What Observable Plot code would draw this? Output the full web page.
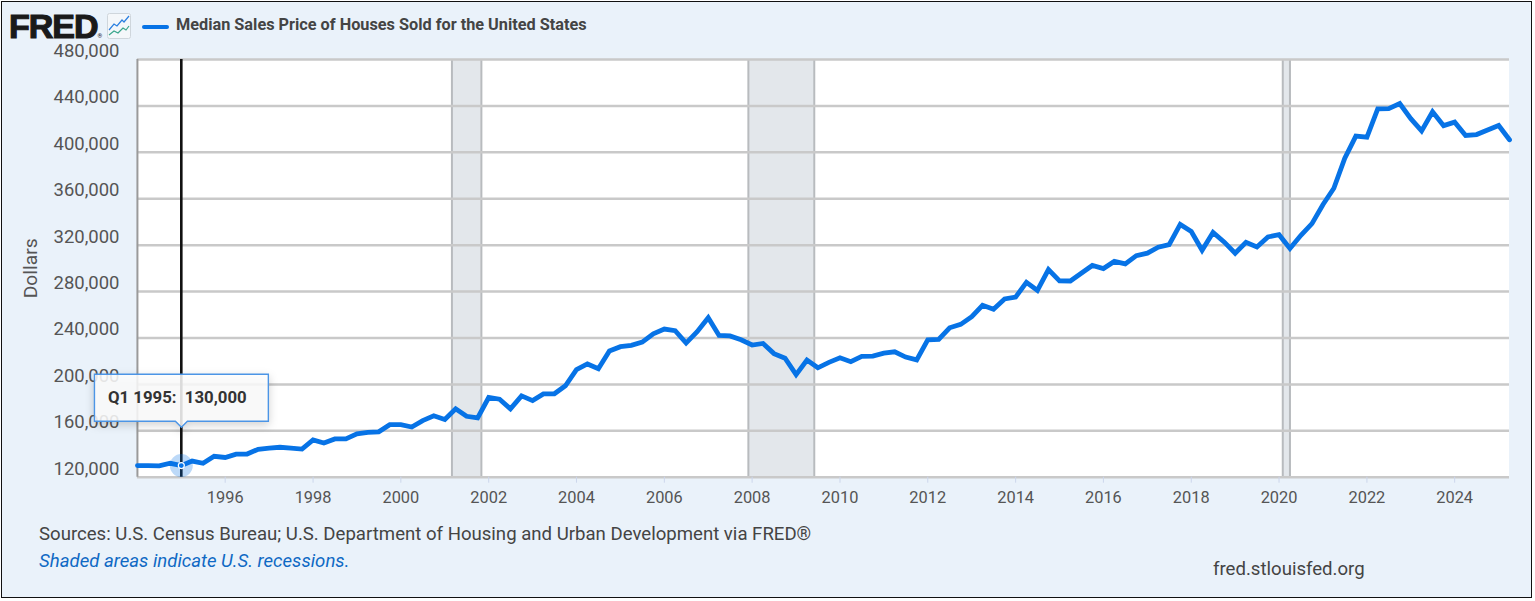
<!DOCTYPE html>
<html><head><meta charset="utf-8">
<script src="https://cdn.jsdelivr.net/npm/d3@7"></script>
<script src="https://cdn.jsdelivr.net/npm/@observablehq/plot@0.6"></script>
<style>
html,body{margin:0;padding:0;background:#fff;overflow:hidden}
#frame{position:absolute;left:1px;top:1px;width:1529px;height:595px;border:1px solid #111;background:#EAF2FA;font-family:Roboto,sans-serif;overflow:hidden}
#chart{position:absolute;left:-1px;top:39px}
#chart svg{overflow:visible;background:transparent}
#chart g[aria-label="tip"]{filter:none!important}
#chart g[aria-label="tip"] text{fill:#333}
.abs{position:absolute;white-space:nowrap}
#logo{left:7px;top:12px;font:900 34px/24px "Liberation Sans",Arial,sans-serif;color:#1a1a1a;letter-spacing:-1px;-webkit-text-stroke:1.2px #1a1a1a}
#logo span{font:400 6px/6px Roboto;letter-spacing:0;-webkit-text-stroke:0}
#icon{left:105px;top:11px}
#swatch{left:140px;top:23px;width:27px;height:4px;background:#0773E6;border-radius:2px}
#title{left:174px;top:13px;font:700 16.27px/19px Roboto,sans-serif;color:#444}
#src{left:37px;top:521px;font:400 18.6px/22px Roboto,sans-serif;color:#444}
#note{left:37px;top:548px;font:italic 400 18.6px/22px Roboto,sans-serif;color:#0F69C4}
#site{left:1211px;top:556px;font:400 18.6px/22px Roboto,sans-serif;color:#444}
</style></head><body>
<div id="frame">
  <div id="chart"></div>
  <div class="abs" id="logo">FRED<span>®</span></div>
  <svg class="abs" id="icon" width="24" height="26" viewBox="0 0 24 26"><rect x=".5" y=".5" width="23" height="25" rx="2" fill="#f4f7fa" stroke="#cfd6dc"/><polyline points="2,17 7,11 10,13 15,7 17,9 22,3" fill="none" stroke="#2a7fe0" stroke-width="1.2"/><polyline points="2,22 7,18 11,20 16,15 19,17 22,13" fill="none" stroke="#3aa68c" stroke-width="1.2"/></svg>
  <div class="abs" id="swatch"></div>
  <div class="abs" id="title">Median Sales Price of Houses Sold for the United States</div>
  <div class="abs" id="src">Sources: U.S. Census Bureau; U.S. Department of Housing and Urban Development via FRED®</div>
  <div class="abs" id="note">Shaded areas indicate U.S. recessions.</div>
  <div class="abs" id="site">fred.stlouisfed.org</div>
</div>
<script>
const firstYear = 1994;
const medianPrice = [
 130000,130000,129700,132000, 130000,133900,132000,138000,
 137000,139900,140000,144100, 145000,145800,145000,144200,
 152200,149500,153000,153000, 157400,158700,159100,165300,
 165300,163200,168800,172900, 169800,179000,172500,171100,
 188700,187200,178900,190100, 186000,191800,191900,198800,
 212700,217600,213500,228800, 232500,233700,236400,243600,
 247700,246300,235600,245400, 257400,242200,241800,238400,
 233900,235300,226500,222500, 208400,220900,214300,219000,
 222900,219500,224100,224300, 226900,228100,223500,221100,
 238400,238700,248800,251700, 258400,268100,264800,273600,
 275200,288000,281000,298900, 289200,289100,295800,302500,
 299800,306000,303800,310900, 313100,318200,320500,337900,
 331800,315600,330900,322800, 313000,322500,318400,327100,
 329000,317100,328500,338500, 355000,369000,395000,414000,
 413000,437500,437700,442000, 429000,418500,435000,423000,
 426000,414500,415300,419300, 423100,410800
];
const recessionStart = ["2001-03-01","2007-12-01","2020-02-01"];
const recessionEnd   = ["2001-11-01","2009-06-01","2020-04-01"];
const yTicks = [120000,160000,200000,240000,280000,320000,360000,400000,440000,480000];
const xTickYears = [1996,1998,2000,2002,2004,2006,2008,2010,2012,2014,2016,2018,2020,2022,2024];
const cursorDate = "1995-01-01";
const cursorValue = 130000;
const tipAnchorValue = 163000;
const tipLabel = "Q1 1995:\u00A0\u00A0130,000\u00A0\u00A0";

const dates = medianPrice.map((_, i) => new Date(Date.UTC(firstYear + Math.floor(i/4), (i%4)*3, 1)));
const series = medianPrice.map((v, i) => ({date: dates[i], value: v}));
const recessions = recessionStart.map((s, i) => ({start: new Date(s), end: new Date(recessionEnd[i])}));
const cursor = [{date: new Date(cursorDate), value: cursorValue}];
const tip = [{date: new Date(cursorDate), value: tipAnchorValue, label: tipLabel}];
const xTicks = xTickYears.map(y => new Date(Date.UTC(y,0,1)));
const fmt = d3.format(",");

const chart = Plot.plot({
  width: 1531, height: 480,
  marginLeft: 136, marginRight: 22, marginTop: 18, marginBottom: 44,
  style: {background: "transparent", fontFamily: "Roboto, sans-serif", overflow: "visible"},
  x: {type: "utc", domain: [dates[0], dates[dates.length-1]], label: null},
  y: {domain: [120000, 480000], label: null},
  marks: [
    Plot.rect([{}], {x1: dates[0], x2: dates[dates.length-1], y1: 120000, y2: 480000, fill: "white"}),
    Plot.rect(recessions, {x1: "start", x2: "end", y1: 120000, y2: 480000, fill: "#E3E7EB"}),
    Plot.ruleX(recessions, {x: "start", y1: 120000, y2: 480000, stroke: "#B8BBBE", strokeWidth: 2}),
    Plot.ruleX(recessions, {x: "end", y1: 120000, y2: 480000, stroke: "#B8BBBE", strokeWidth: 2}),
    Plot.ruleY(yTicks, {stroke: "#C9C9C9", strokeWidth: 2.5}),
    Plot.ruleX([dates[0]], {y1: 120000, y2: 480000, stroke: "#9A9A9A", strokeWidth: 2}),
    Plot.axisY({ticks: yTicks, tickFormat: fmt, tickSize: 0, tickPadding: 18, dy: -8.5, fontSize: 18.5, fill: "#555", label: null, marginLeft: 136}),
    Plot.axisX({ticks: xTicks, tickFormat: d3.utcFormat("%Y"), tickSize: 6, tickPadding: 8, stroke: "#CCD6EB", fill: "#555", fontSize: 16.4, label: null}),
    Plot.text(["Dollars"], {frameAnchor: "left", textAnchor: "middle", dx: -107, rotate: -90, fontSize: 19.3, fill: "#555"}),
    Plot.ruleX(cursor, {x: "date", y1: 120000, y2: 480000, stroke: "#111", strokeWidth: 2.6}),
    Plot.line(series, {x: "date", y: "value", stroke: "#0773E6", strokeWidth: 4.8, strokeLinejoin: "miter", strokeMiterlimit: 4, curve: "linear"}),
    Plot.dot(cursor, {x: "date", y: "value", r: 11.5, fill: "#0773E6", fillOpacity: 0.27}),
    Plot.dot(cursor, {x: "date", y: "value", r: 3, fill: "#0773E6", stroke: "white", strokeWidth: 1.2}),
    Plot.tip(tip, {x: "date", y: "value", title: "label", anchor: "bottom", fill: "white", fillOpacity: 0.85, stroke: "#4C95E6", strokeWidth: 1.4, fontSize: 16.8, fontWeight: 700, textPadding: 13.5})
  ]
});
document.getElementById("chart").appendChild(chart);
</script>
</body></html>
